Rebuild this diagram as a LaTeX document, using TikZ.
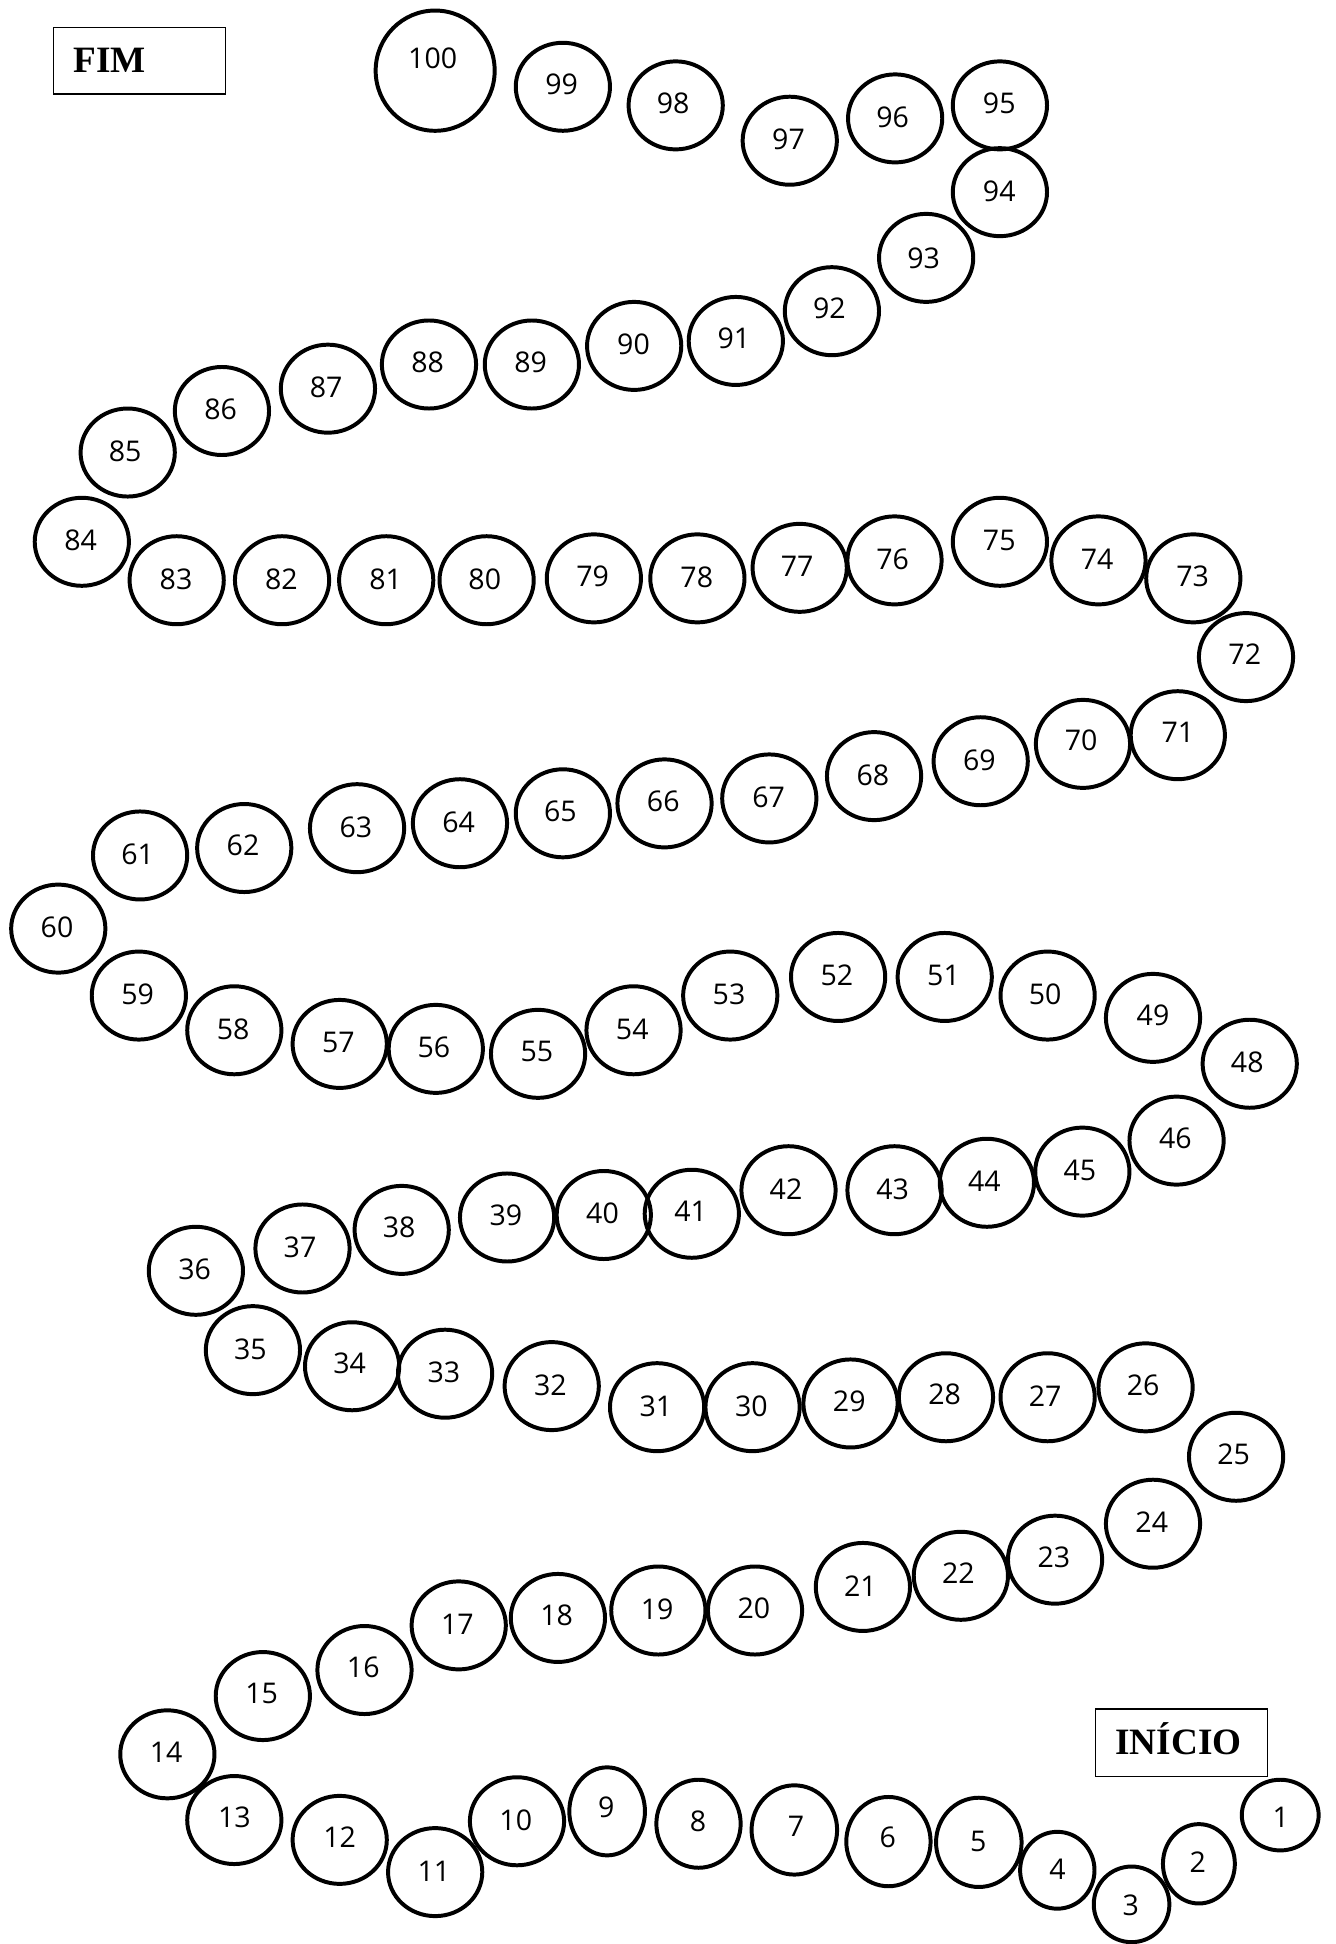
\documentclass[tikz,border=0pt]{standalone}
\usepackage{fontspec}
\newfontfamily\numfont{Open Sans}
\newfontfamily\titlefont{Liberation Serif}
\begin{document}
\begin{tikzpicture}[x=1pt,y=-1pt,
  cellline/.style={line width=3.2pt,black},
  numtxt/.style={inner sep=0pt,font=\numfont\fontsize{23}{23}\selectfont},
  titlebox/.style={draw,line width=1.1pt},
  titletxt/.style={inner sep=0pt,anchor=base west,font=\titlefont\bfseries\fontsize{30}{30}\selectfont}]
\useasboundingbox (0,0) rectangle (1077,1568);
\fill[white] (0,0) rectangle (1077,1568);
% N/cx/cy/rx/ry/lx/ly
\foreach \n/\cx/\cy/\rx/\ry/\lx/\ly in {
100/351/57/48/48.5/349/47,
99/454/70/38/35.5/453/68,
98/545/85/38/35.5/543/83,
97/637/113.5/38/35.5/636/112,
96/722/95.5/38/35.5/720/95,
95/806.5/85/38/35.5/806/83,
94/806.5/155/38/35.5/806/154,
93/747/208/38/35.5/745/208,
92/671/251/38/35.5/669/249,
91/593.5/275/38/35.5/592/273,
90/511.5/279/38/35.5/511/278,
89/429/294/38/35.5/428/292,
88/346/294/38/35.5/345/292,
87/264.5/313.5/38/35.5/263/312,
86/179/331.5/38/35.5/178/330,
85/103/365/38/35.5/101/364,
84/66/437/38/35.5/65/436,
83/142.5/468/38/35.5/142/467,
82/227.5/468/38/35.5/227/467,
81/311.5/468/38/35.5/311/467,
80/392.5/468/38/35.5/391/467,
79/479/466.5/38/35.5/478/465,
78/562.5/466.5/38/35.5/562/466,
77/645/458/38/35.5/643/457,
76/721.5/452/38/35.5/720/451,
75/806.5/437/38/35.5/806/436,
74/886/452/38/35.5/885/451,
73/962.5/466.5/38/35.5/962/465,
72/1005/530/38/35.5/1004/528,
71/950/593/38/35.5/950/591,
70/873.5/600/38/35.5/872/597,
69/791/614/38/35.5/790/613,
68/705/626/38/35.5/704/625,
67/620.5/644/38/35.5/620/643,
66/536/648/38/35.5/535/646,
65/454/656/38/35.5/452/654,
64/371/664/38/35.5/370/663,
63/288/668/38/35.5/287/667,
62/197/684/38/35.5/196/682,
61/113/690/38/35.5/111/689,
60/47/749/38/35.5/46/748,
59/112/803/38/35.5/111/802,
58/189/831/38/35.5/188/830,
57/274/842/38/35.5/273/841,
56/351.5/846/38/35.5/350/845,
55/434/850/38/35.5/433/848,
54/511/831/38/35.5/510/830,
53/589/803/38/35.5/588/802,
52/676/788/38/35.5/675/787,
51/762/788/38/35.5/761/787,
50/845/803/38/35.5/843/802,
49/930/821/38/35.5/930/819,
48/1008/858/38/35.5/1006/857,
46/949/920/38/35.5/948/918,
45/873/945/38/35.5/871/944,
44/796/954/38/35.5/794/953,
43/721.5/960/38/35.5/720/959,
42/636/960/38/35.5/634/959,
41/558/979/38/35.5/557/977,
40/487/980/38/35.5/486/979,
39/409/982/38/35.5/408/980,
38/324/992/38/35.5/322/990,
37/244/1007/38/35.5/242/1006,
36/158/1025/38/35.5/157/1024,
35/204/1089/38/35.5/202/1088,
34/284/1102/38/35.5/282/1100,
33/359/1108/38/35.5/358/1107,
32/445/1118/38/35.5/444/1117,
31/530/1135/38/35.5/529/1134,
30/607/1135/38/35.5/606/1134,
29/686/1132/38/35.5/685/1130,
28/763/1127/38/35.5/762/1125,
27/845/1127/38/35.5/843/1126,
26/924/1119/38/35.5/922/1117,
25/997/1175/38/35.5/995/1173,
24/930/1229/38/35.5/929/1228,
23/851/1258/38/35.5/850/1256,
22/775/1271/38/35.5/773/1269,
21/696/1280/38/35.5/694/1279,
20/609/1299/38/35.5/608/1297,
19/531/1299/38/35.5/530/1298,
18/450/1305/38/35.5/449/1303,
17/370/1311/38/35.5/369/1310,
16/294/1347/38/35.5/293/1345,
15/212/1368/38/35.5/211/1366,
14/135/1415/38/35.5/134/1413,
13/189/1468/38/35.5/189/1466,
12/274/1484/38/35.5/274/1482,
11/351/1510/38/35.5/350/1509,
10/417/1469/38/35.5/416/1468,
9/489.7/1461/30.5/35.5/489/1458,
8/563.4/1471/34/35.5/563/1469,
7/640.7/1476/34.5/36/642/1473,
6/716.6/1485.4/34/36/716/1482,
5/789.5/1486/34.5/36/789/1485,
4/852.8/1508.5/30/31/853/1508,
3/912.7/1536/30.5/30.5/912/1537,
2/967/1503.3/29/32/966/1502,
1/1032.6/1464/31/28.5/1033/1466}
{
  \draw[cellline] (\cx,\cy) ellipse [x radius=\rx, y radius=\ry];
  \node[numtxt] (n\n) at (\lx,\ly) {\n};
}
% title boxes
\node[titlebox,inner sep=0pt,minimum width=139pt,minimum height=53.5pt,anchor=north west] (fimbox) at (42.5,21.8) {};
\node[titletxt] (fim) at (59,58.6) {FIM};
\node[titlebox,inner sep=0pt,minimum width=139pt,minimum height=54.5pt,anchor=north west] (iniciobox) at (882.8,1378) {};
\node[titletxt] (inicio) at (899.5,1415) {INÍCIO};
\end{tikzpicture}
\end{document}
